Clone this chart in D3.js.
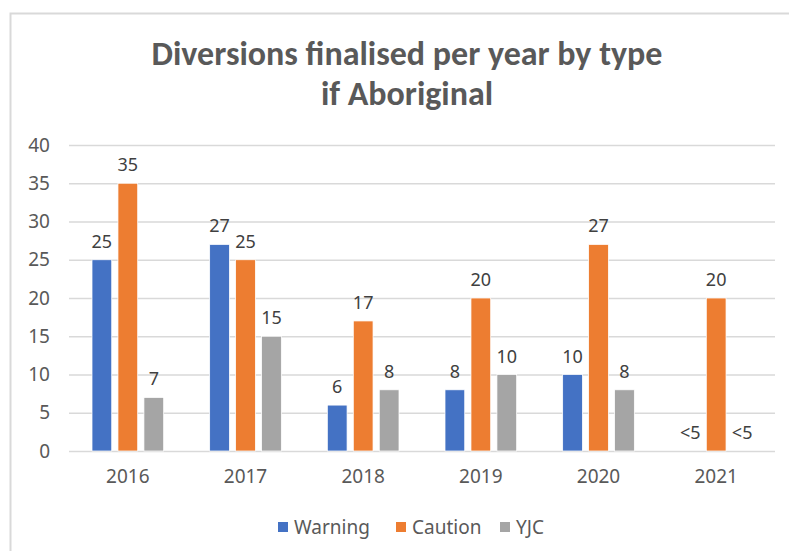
<!DOCTYPE html>
<html lang="en">
<head>
  <meta charset="utf-8">
  <title>Diversions finalised per year by type if Aboriginal</title>
  <style>
    body { margin: 0; background: #fff; }
    #chart text { font-family: "Noto Sans", "Open Sans", sans-serif; }
    #chart .title { font-family: Carlito, Calibri, Lato, sans-serif; }
    .tick text { fill: #595959; font-size: 19px; }
    .value-label { fill: #404040; font-size: 18px; text-anchor: middle; }
  </style>
</head>
<body>
  <div id="chart"></div>
  <script src="https://d3js.org/d3.v7.min.js"></script>
  <script>
    var years = ["2016", "2017", "2018", "2019", "2020", "2021"];
    var seriesNames = ["Warning", "Caution", "YJC"];
    var warning = [25, 27, 6, 8, 10, 0];
    var caution = [35, 25, 17, 20, 27, 20];
    var yjc = [7, 15, 8, 10, 8, 0];
    // shown text for each bar (suppressed counts are "<5")
    var warningLabels = ["25", "27", "6", "8", "10", "<5"];
    var cautionLabels = ["35", "25", "17", "20", "27", "20"];
    var yjcLabels = ["7", "15", "8", "10", "8", "<5"];
    var yTicks = [0, 5, 10, 15, 20, 25, 30, 35, 40];
    var colors = ["#4472C4", "#ED7D31", "#A5A5A5"];

    var W = 789, H = 551;
    var margin = { top: 145, right: 14, bottom: 100, left: 69 };
    var width = W - margin.left - margin.right,
      height = H - margin.top - margin.bottom;

    var svg = d3.select("#chart").append("svg")
      .attr("width", W)
      .attr("height", H);

    // chart frame (cut off at right and bottom in the original)
    svg.append("rect")
      .attr("x", 10.5).attr("y", 13.5)
      .attr("width", 800).attr("height", 600)
      .attr("fill", "none")
      .attr("stroke", "#d9d9d9")
      .attr("stroke-width", 2);

    svg.append("text")
      .attr("class", "title")
      .attr("x", 407).attr("y", 65)
      .attr("text-anchor", "middle")
      .attr("fill", "#595959")
      .style("font-size", "34px")
      .style("font-weight", "bold")
      .text("Diversions finalised per year by type");
    svg.append("text")
      .attr("class", "title")
      .attr("x", 407).attr("y", 105)
      .attr("text-anchor", "middle")
      .attr("fill", "#595959")
      .style("font-size", "34px")
      .style("font-weight", "bold")
      .text("if Aboriginal");

    var g = svg.append("g")
      .attr("transform", "translate(" + margin.left + "," + margin.top + ")");

    var x = d3.scaleBand().domain(years).range([0, width]).paddingInner(0).paddingOuter(0);
    var x1 = d3.scaleBand().domain(seriesNames).range([23, x.bandwidth() - 23]).paddingInner(0.24).paddingOuter(0);
    var y = d3.scaleLinear().domain([0, 40]).range([height, 0]);

    // gridlines + y labels
    var yAxis = g.append("g")
      .call(d3.axisLeft(y).tickValues(yTicks).tickSize(-width).tickPadding(19));
    yAxis.select(".domain").remove();
    yAxis.selectAll(".tick line").attr("stroke", "#d9d9d9").attr("stroke-width", 1.5);

    var xAxis = g.append("g")
      .attr("transform", "translate(0," + height + ")")
      .call(d3.axisBottom(x).tickSize(0).tickPadding(19));
    xAxis.select(".domain").remove();

    var rows = years.map(function (yr, i) {
      return {
        year: yr,
        items: [
          { s: "Warning", v: warning[i], t: warningLabels[i], c: colors[0] },
          { s: "Caution", v: caution[i], t: cautionLabels[i], c: colors[1] },
          { s: "YJC", v: yjc[i], t: yjcLabels[i], c: colors[2] }
        ]
      };
    });

    var groups = g.selectAll(".grp").data(rows).enter().append("g")
      .attr("class", "grp")
      .attr("transform", function (d) { return "translate(" + x(d.year) + ",0)"; });

    groups.selectAll("rect").data(function (d) { return d.items; }).enter().append("rect")
      .attr("x", function (d) { return x1(d.s); })
      .attr("y", function (d) { return y(d.v); })
      .attr("width", x1.bandwidth())
      .attr("height", function (d) { return height - y(d.v); })
      .attr("fill", function (d) { return d.c; })
      .attr("stroke", "#fff")
      .attr("stroke-width", 0.75);

    groups.selectAll(".value-label").data(function (d) { return d.items; }).enter().append("text")
      .attr("class", "value-label")
      .attr("x", function (d) { return x1(d.s) + x1.bandwidth() / 2; })
      .attr("y", function (d) { return y(d.v) - 12; })
      .text(function (d) { return d.t; });

    // legend
    var legendX = [278, 396, 500];
    var legend = svg.append("g").attr("transform", "translate(0,527)");
    seriesNames.forEach(function (n, i) {
      legend.append("rect")
        .attr("x", legendX[i]).attr("y", -5)
        .attr("width", 10).attr("height", 10)
        .attr("fill", colors[i]);
      legend.append("text")
        .attr("x", legendX[i] + 16).attr("y", 7)
        .attr("fill", "#595959")
        .style("font-size", "19px")
        .text(n);
    });
  </script>
</body>
</html>
